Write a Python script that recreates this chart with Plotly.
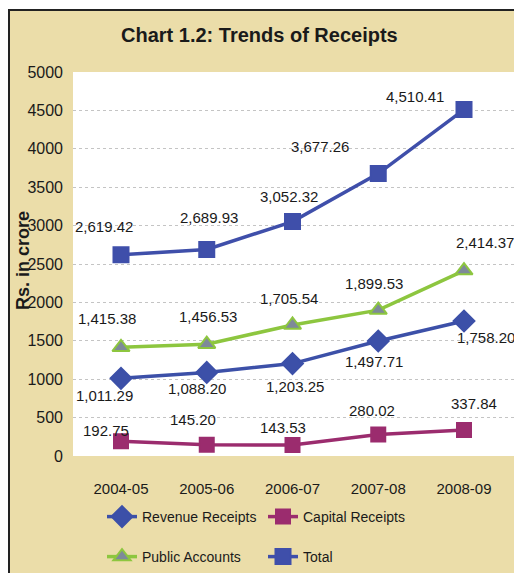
import plotly.graph_objects as go

years = ["2004-05", "2005-06", "2006-07", "2007-08", "2008-09"]
revenue = [1011.29, 1088.20, 1203.25, 1497.71, 1758.20]
capital = [192.75, 145.20, 143.53, 280.02, 337.84]
public_acc = [1415.38, 1456.53, 1705.54, 1899.53, 2414.37]
total = [2619.42, 2689.93, 3052.32, 3677.26, 4510.41]

FONT = "Liberation Sans, Arial, sans-serif"
BEIGE = "#EBDDA9"
INK = "#1a1a1a"

# the page puts the figure 8px in from the top-left corner
W, H = 514, 565
L, T, R, B = 65, 64, 5, 117
PW, PH = W - L - R, H - T - B

# label offsets (px) relative to each point, as placed in the original
label_shift = {
    "total": ([-17, 2, -4, -58, -49], [28, 32, 25, 27, 13]),
    "public": ([-14, 1, -4, -4, 21], [29, 28, 27, 27, 28]),
    "revenue": ([-17, -10, 2, -4, 22], [-17, -16, -23, -21, -17]),
    "capital": ([-15, -14, -10, -6, 10], [11, 25, 17, 24, 27]),
}

series = [
    ("Revenue Receipts", revenue, "revenue", "#3C50A8", "diamond", 16, "legend"),
    ("Capital Receipts", capital, "capital", "#9B2C6E", "square", 14, "legend"),
    ("Public Accounts", public_acc, "public", "#8DC63F", "triangle-up", 15, "legend2"),
    ("Total", total, "total", "#3F4FAA", "square", 15, "legend2"),
]

fig = go.Figure()
annotations = []
for name, vals, key, colour, symbol, size, leg in series:
    mcol = "#7E8A99" if key == "public" else colour
    fig.add_trace(
        go.Scatter(
            x=years,
            y=vals,
            name=name,
            mode="lines+markers",
            line=dict(color=colour, width=3.5),
            marker=dict(symbol=symbol, size=size, color=mcol,
                        line=dict(color=colour, width=2)),
            legend=leg,
        )
    )
    dx, dy = label_shift[key]
    for i, (x, v) in enumerate(zip(years, vals)):
        annotations.append(
            dict(x=x, y=v, xref="x", yref="y", text=f"{v:,.2f}",
                 showarrow=False, xshift=dx[i], yshift=dy[i],
                 font=dict(family=FONT, size=15, color=INK))
        )

annotations.append(
    dict(text="<b>Chart 1.2: Trends of Receipts</b>", xref="paper", yref="paper",
         x=(251 - L) / PW, y=1 + (T - 27) / PH, xanchor="center",
         yanchor="middle", showarrow=False,
         font=dict(family=FONT, size=20, color=INK))
)
annotations.append(
    dict(text="<b>Rs. in crore</b>", xref="paper", yref="paper",
         x=(15 - L) / PW, y=(448 - 253) / PH, xanchor="center",
         yanchor="middle", textangle=-90, showarrow=False,
         font=dict(family=FONT, size=18, color=INK))
)

fig.update_layout(
    width=W,
    height=H,
    margin=dict(l=L, r=R, t=T, b=B, autoexpand=False),
    paper_bgcolor=BEIGE,
    plot_bgcolor="white",
    annotations=annotations,
    xaxis=dict(type="category", showgrid=False, showline=False, ticks="",
               ticklabelstandoff=22,
               tickfont=dict(family=FONT, size=15, color=INK)),
    yaxis=dict(range=[0, 5000], dtick=500, showgrid=True, gridcolor="#c4c4c4",
               griddash="dot", zeroline=False, showline=False, ticks="",
               ticklabelstandoff=9,
               tickfont=dict(family=FONT, size=16, color=INK)),
    legend=dict(orientation="h", x=(94 - L) / PW, xanchor="left",
                y=(448 - 509) / PH, yanchor="middle", entrywidth=116,
                bgcolor="rgba(0,0,0,0)",
                font=dict(family=FONT, size=14, color=INK)),
    legend2=dict(orientation="h", x=(94 - L) / PW, xanchor="left",
                 y=(448 - 549) / PH, yanchor="middle", entrywidth=116,
                 bgcolor="rgba(0,0,0,0)",
                 font=dict(family=FONT, size=14, color=INK)),
    shapes=[
        # white strip above the chart frame, then the frame itself
        dict(type="rect", xref="paper", yref="paper", x0=-0.3, x1=1.2,
             y0=1 + (T - 2) / PH, y1=1.3, fillcolor="white", line_width=0),
        dict(type="rect", xref="paper", yref="paper", x0=(1 - L) / PW, x1=1.2,
             y0=-0.4, y1=1 + (T - 2) / PH, fillcolor="rgba(0,0,0,0)",
             line=dict(color="#222222", width=2)),
    ],
)

fig.write_html("out.html")
